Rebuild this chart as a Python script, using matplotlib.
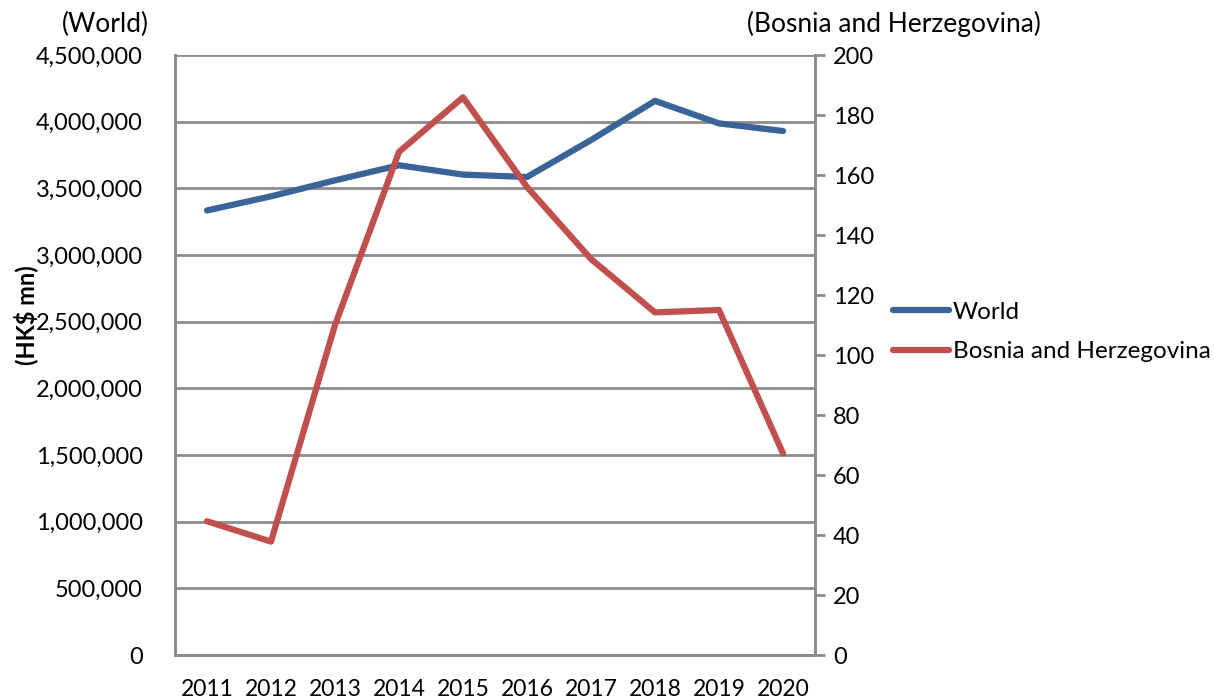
import matplotlib.pyplot as plt
from matplotlib.ticker import FuncFormatter

plt.rcParams['font.family'] = ['Lato', 'DejaVu Sans']

years = ['2011', '2012', '2013', '2014', '2015', '2016', '2017', '2018', '2019', '2020']
world = [3334000, 3440000, 3560000, 3673000, 3603000, 3585000, 3862000, 4156000, 3987000, 3930000]
bosnia = [44.6, 37.8, 110.0, 167.7, 185.9, 156.0, 132.0, 114.2, 115.0, 67.2]

blue = '#3A6498'
red = '#C0504D'
grey = '#8C8C8C'

fig = plt.figure(figsize=(12.14, 7), dpi=100)
ax = fig.add_axes([175 / 1214, 45 / 700, 640 / 1214, 600 / 700])
ax2 = ax.twinx()

x = list(range(len(years)))
l1, = ax.plot(x, world, color=blue, lw=4.5, solid_capstyle='round', zorder=3)
l2, = ax2.plot(x, bosnia, color=red, lw=4.5, solid_capstyle='round', zorder=3)

ax.set_xlim(-0.5, 9.5)
ax.set_ylim(0, 4500000)
ax.set_yticks(range(0, 4500001, 500000))
ax.yaxis.set_major_formatter(FuncFormatter(lambda v, p: f'{int(v):,}'))
ax2.set_ylim(0, 200)
ax2.set_yticks(range(0, 201, 20))

ax.set_xticks(x)
ax.set_xticklabels(years)
ax.tick_params(axis='x', length=0, labelsize=16.5, pad=17)
ax.tick_params(axis='y', length=0, labelsize=17, pad=23)
ax2.tick_params(axis='y', length=7, width=2, color=grey, labelsize=17, pad=6)

ax.grid(axis='y', color=grey, lw=2)
ax.set_axisbelow(True)
for a in (ax, ax2):
    a.spines['top'].set_visible(False)
    for s in ('left', 'right', 'bottom'):
        a.spines[s].set_color(grey)
        a.spines[s].set_linewidth(2)

fig.text(26 / 1214, 1 - 315 / 700, '(HK$ mn)', rotation=90, fontsize=17,
         fontweight='bold', ha='center', va='center')
fig.text(105 / 1214, 1 - 24 / 700, '(World)', fontsize=19, ha='center', va='center')
fig.text(894 / 1214, 1 - 24 / 700, '(Bosnia and Herzegovina)', fontsize=19,
         ha='center', va='center')

fig.legend([l1, l2], ['World', 'Bosnia and Herzegovina'], loc='center left',
           bbox_to_anchor=(893 / 1214, 1 - 332 / 700), frameon=False, fontsize=17.5,
           handlelength=2.3, handletextpad=0.15, labelspacing=0.75, borderaxespad=0,
           borderpad=0)

fig.savefig('out.png', dpi=100)
